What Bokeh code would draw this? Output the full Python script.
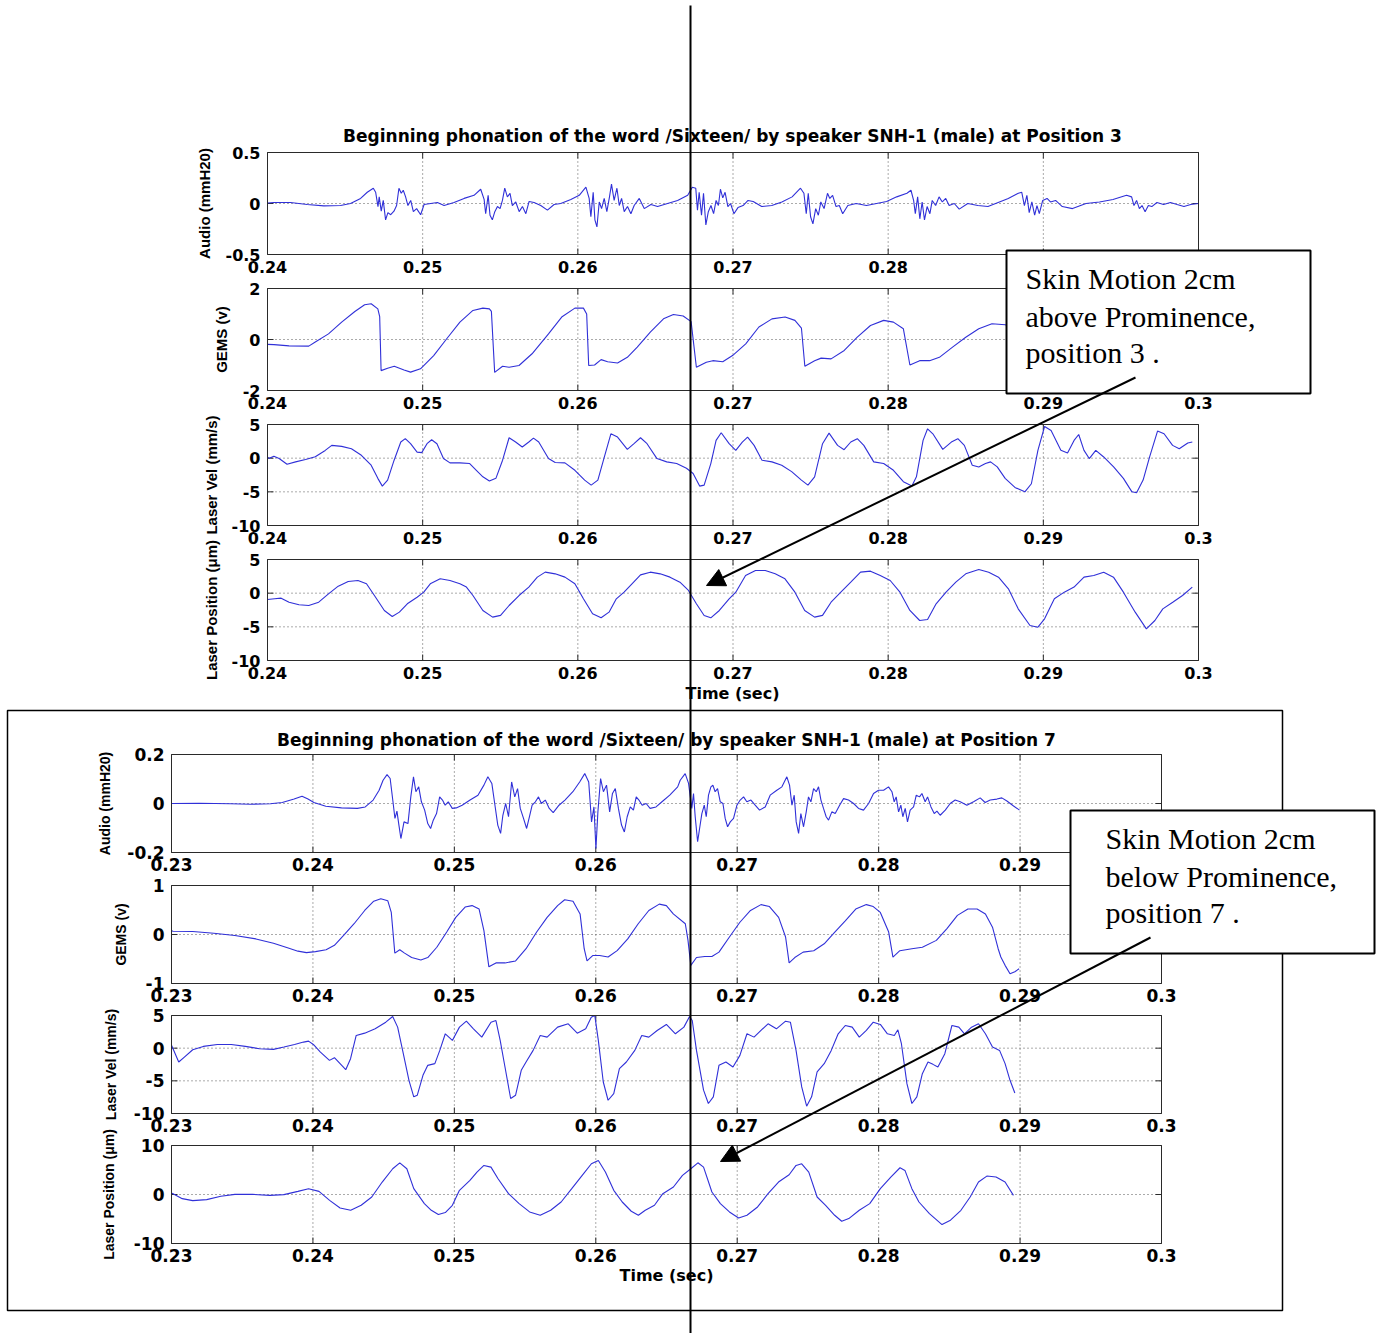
from bokeh.plotting import figure
from bokeh.models import Range1d, Arrow, NormalHead
from bokeh.core.properties import value
from bokeh.embed import file_html
from bokeh.resources import INLINE

W, H = 1382, 1333
BLUE = "#3030d8"

# ---------------- data: (time s, value) ----------------
AUDIO_3 = [(0.24000,0.005),(0.24041,0.01),(0.24148,0.01),(0.24256,-0.01),(0.24363,-0.023),(0.24471,-0.02),(0.24535,0.0),(0.24600,0.05),(0.24643,0.11),(0.24682,0.15),(0.24697,0.11),(0.24712,-0.03),(0.24720,0.065),(0.24733,-0.075),(0.24746,0.03),(0.24761,-0.16),(0.24776,-0.09),(0.24794,-0.11),(0.24815,-0.075),(0.24832,-0.02),(0.24847,0.15),(0.24862,0.10),(0.24875,0.13),(0.24890,0.065),(0.24905,-0.02),(0.24923,0.03),(0.24940,-0.08),(0.24961,-0.05),(0.24987,-0.11),(0.25009,-0.01),(0.25052,0.0),(0.25095,0.01),(0.25138,-0.02),(0.25202,0.01),(0.25267,0.05),(0.25331,0.08),(0.25374,0.14),(0.25396,0.04),(0.25406,-0.10),(0.25422,0.08),(0.25434,-0.115),(0.25449,-0.16),(0.25465,-0.08),(0.25482,-0.03),(0.25499,-0.05),(0.25514,0.03),(0.25529,0.15),(0.25546,0.065),(0.25563,0.10),(0.25578,-0.02),(0.25600,0.015),(0.25622,-0.08),(0.25643,-0.03),(0.25665,-0.10),(0.25686,0.02),(0.25718,0.01),(0.25761,-0.02),(0.25804,-0.065),(0.25847,-0.01),(0.25890,0.0),(0.25955,0.04),(0.26009,0.08),(0.26052,0.16),(0.26073,0.05),(0.26084,-0.13),(0.26099,0.11),(0.26110,-0.16),(0.26123,-0.23),(0.26138,0.015),(0.26153,-0.05),(0.26170,0.05),(0.26187,-0.08),(0.26204,0.065),(0.26217,0.19),(0.26234,0.03),(0.26252,0.15),(0.26267,-0.02),(0.26282,0.05),(0.26299,-0.08),(0.26320,-0.03),(0.26342,-0.10),(0.26363,-0.02),(0.26396,0.05),(0.26428,-0.05),(0.26471,-0.01),(0.26514,-0.03),(0.26578,0.0),(0.26643,0.03),(0.26708,0.08),(0.26738,0.16),(0.26760,0.15),(0.26771,-0.065),(0.26782,0.11),(0.26797,-0.115),(0.26810,0.10),(0.26825,-0.21),(0.26841,-0.08),(0.26858,-0.02),(0.26875,-0.10),(0.26891,0.03),(0.26906,-0.02),(0.26919,0.14),(0.26934,0.055),(0.26949,0.11),(0.26967,-0.03),(0.26984,0.0),(0.27006,-0.10),(0.27032,-0.04),(0.27065,-0.02),(0.27097,0.03),(0.27130,0.02),(0.27185,-0.03),(0.27250,-0.02),(0.27315,0.015),(0.27381,0.065),(0.27435,0.15),(0.27457,0.10),(0.27472,-0.10),(0.27485,0.10),(0.27500,-0.13),(0.27515,-0.20),(0.27533,-0.05),(0.27550,-0.115),(0.27566,0.015),(0.27587,-0.05),(0.27609,0.10),(0.27624,0.05),(0.27642,0.08),(0.27664,-0.03),(0.27685,-0.02),(0.27707,-0.10),(0.27740,-0.02),(0.27794,0.0),(0.27860,-0.02),(0.27925,0.0),(0.27990,0.02),(0.28055,0.065),(0.28121,0.10),(0.28147,0.13),(0.28164,0.03),(0.28175,-0.10),(0.28190,0.065),(0.28204,-0.15),(0.28219,0.015),(0.28234,-0.16),(0.28251,-0.03),(0.28269,-0.10),(0.28284,0.03),(0.28306,-0.02),(0.28328,0.065),(0.28349,0.015),(0.28371,0.05),(0.28393,-0.02),(0.28426,0.0),(0.28458,-0.055),(0.28513,0.0),(0.28578,-0.02),(0.28643,-0.03),(0.28709,0.01),(0.28774,0.05),(0.28839,0.10),(0.28861,0.11),(0.28878,-0.02),(0.28894,0.08),(0.28909,-0.09),(0.28926,0.015),(0.28944,-0.115),(0.28959,-0.02),(0.28974,-0.10),(0.28996,0.03),(0.29024,0.05),(0.29046,0.015),(0.29079,0.03),(0.29122,-0.03),(0.29188,-0.05),(0.29275,0.0),(0.29362,0.015),(0.29449,0.04),(0.29536,0.08),(0.29569,0.065),(0.29584,-0.02),(0.29601,0.03),(0.29619,-0.05),(0.29636,-0.02),(0.29656,-0.08),(0.29677,-0.02),(0.29699,-0.03),(0.29732,0.01),(0.29775,-0.01),(0.29819,0.01),(0.29862,-0.01),(0.29906,-0.03),(0.29950,-0.01),(0.30000,0.0)]

GEMS_3 = [(0.24000,-0.19),(0.24042,-0.20),(0.24139,-0.25),(0.24266,-0.26),(0.24308,-0.10),(0.24393,0.22),(0.24478,0.68),(0.24563,1.10),(0.24626,1.36),(0.24668,1.40),(0.24711,1.20),(0.24723,0.90),(0.24732,-1.22),(0.24774,-1.13),(0.24817,-1.05),(0.24880,-1.20),(0.24922,-1.28),(0.24986,-1.15),(0.25071,-0.63),(0.25155,0.03),(0.25240,0.68),(0.25324,1.14),(0.25388,1.23),(0.25430,1.20),(0.25443,1.10),(0.25464,-1.29),(0.25515,-1.05),(0.25557,-1.09),(0.25621,-1.02),(0.25705,-0.56),(0.25811,0.22),(0.25896,0.88),(0.25981,1.23),(0.26036,1.23),(0.26057,1.00),(0.26070,-1.02),(0.26108,-1.00),(0.26150,-0.79),(0.26192,-0.87),(0.26256,-0.92),(0.26319,-0.70),(0.26383,-0.30),(0.26467,0.29),(0.26552,0.81),(0.26616,0.98),(0.26679,0.92),(0.26730,0.70),(0.26764,-1.09),(0.26828,-0.89),(0.26870,-0.83),(0.26934,-0.87),(0.26997,-0.63),(0.27082,-0.17),(0.27167,0.49),(0.27251,0.81),(0.27336,0.88),(0.27399,0.75),(0.27441,0.45),(0.27463,-1.05),(0.27526,-0.83),(0.27568,-0.73),(0.27632,-0.76),(0.27717,-0.43),(0.27801,0.09),(0.27886,0.55),(0.27971,0.75),(0.28034,0.68),(0.28098,0.42),(0.28140,-1.00),(0.28203,-0.83),(0.28267,-0.83),(0.28330,-0.70),(0.28415,-0.30),(0.28500,0.09),(0.28584,0.42),(0.28669,0.62),(0.28754,0.58),(0.28820,0.45),(0.28860,0.20),(0.28880,-0.95),(0.28930,-0.80),(0.29000,-0.60),(0.29100,-0.10),(0.29250,0.40),(0.29400,0.50),(0.29500,0.35),(0.29530,-0.90),(0.29620,-0.70),(0.29750,-0.30),(0.29900,0.20),(0.30000,0.35)]

VEL_3 = [(0.24000,0.1),(0.24012,0.0),(0.24041,0.3),(0.24075,-0.05),(0.24126,-0.9),(0.24181,-0.55),(0.24245,-0.2),(0.24308,0.2),(0.24372,1.15),(0.24414,1.9),(0.24478,1.75),(0.24541,1.4),(0.24605,0.43),(0.24668,-1.05),(0.24711,-3.0),(0.24740,-4.15),(0.24774,-3.26),(0.24816,-0.3),(0.24859,2.4),(0.24888,2.9),(0.24922,2.15),(0.24964,0.9),(0.24994,0.82),(0.25028,2.15),(0.25058,2.74),(0.25092,2.15),(0.25134,-0.06),(0.25176,-0.7),(0.25240,-0.7),(0.25303,-0.8),(0.25346,-1.8),(0.25388,-2.77),(0.25430,-3.4),(0.25472,-3.0),(0.25515,-0.3),(0.25557,3.03),(0.25599,2.4),(0.25642,1.65),(0.25684,2.4),(0.25714,2.98),(0.25748,2.4),(0.25811,-0.06),(0.25854,-0.65),(0.25917,-0.7),(0.25981,-1.8),(0.26044,-3.26),(0.26086,-4.0),(0.26129,-3.26),(0.26171,0.18),(0.26213,3.62),(0.26256,3.13),(0.26319,1.3),(0.26362,2.15),(0.26404,3.03),(0.26446,2.15),(0.26510,-0.06),(0.26573,-0.55),(0.26637,-0.8),(0.26700,-1.5),(0.26743,-2.28),(0.26785,-4.15),(0.26814,-4.0),(0.26857,-0.8),(0.26891,2.64),(0.26924,3.77),(0.26975,2.15),(0.27018,1.16),(0.27060,2.39),(0.27094,3.13),(0.27136,1.9),(0.27187,-0.3),(0.27251,-0.55),(0.27314,-1.05),(0.27378,-2.0),(0.27441,-3.26),(0.27483,-4.0),(0.27526,-2.77),(0.27577,2.15),(0.27619,3.72),(0.27674,1.9),(0.27716,1.26),(0.27759,2.4),(0.27801,2.9),(0.27843,1.9),(0.27907,-0.55),(0.27971,-0.8),(0.28034,-1.8),(0.28098,-3.5),(0.28153,-4.15),(0.28182,-2.77),(0.28225,2.64),(0.28254,4.36),(0.28288,3.62),(0.28352,1.3),(0.28407,2.39),(0.28449,2.9),(0.28491,1.9),(0.28542,-1.05),(0.28584,-1.3),(0.28627,-0.8),(0.28660,-0.55),(0.28703,-1.3),(0.28754,-3.0),(0.28817,-4.35),(0.28881,-5.0),(0.28923,-3.8),(0.28965,1.16),(0.29008,4.7),(0.29050,4.1),(0.29113,1.16),(0.29156,0.77),(0.29198,2.64),(0.29228,3.52),(0.29262,1.16),(0.29296,-0.06),(0.29338,1.16),(0.29389,0.18),(0.29453,-1.3),(0.29516,-3.0),(0.29571,-5.0),(0.29601,-5.13),(0.29643,-3.26),(0.29685,0.18),(0.29736,4.02),(0.29778,3.62),(0.29833,1.9),(0.29876,1.4),(0.29931,2.25),(0.29960,2.4)]

POS_3 = [(0.24000,-0.95),(0.24046,-0.84),(0.24088,-0.74),(0.24139,-1.34),(0.24203,-1.73),(0.24266,-1.83),(0.24330,-1.34),(0.24393,-0.10),(0.24456,1.04),(0.24520,1.73),(0.24583,1.88),(0.24638,1.39),(0.24689,-0.35),(0.24753,-2.57),(0.24804,-3.47),(0.24850,-2.82),(0.24901,-1.58),(0.24964,-0.60),(0.25007,0.15),(0.25049,1.39),(0.25113,2.13),(0.25176,1.88),(0.25240,1.39),(0.25282,0.90),(0.25324,-0.35),(0.25388,-2.57),(0.25451,-3.56),(0.25502,-3.30),(0.25557,-1.83),(0.25621,-0.35),(0.25684,0.90),(0.25739,2.38),(0.25790,3.12),(0.25854,2.87),(0.25917,2.38),(0.25981,1.39),(0.26036,-0.84),(0.26095,-3.07),(0.26150,-3.66),(0.26201,-2.82),(0.26248,-0.84),(0.26298,0.15),(0.26349,1.39),(0.26404,2.72),(0.26467,3.12),(0.26531,2.87),(0.26594,2.38),(0.26658,1.63),(0.26713,0.40),(0.26764,-1.58),(0.26814,-3.32),(0.26857,-3.66),(0.26912,-2.57),(0.26975,-0.84),(0.27018,0.15),(0.27081,2.62),(0.27145,3.37),(0.27208,3.37),(0.27272,2.87),(0.27335,2.13),(0.27399,0.15),(0.27462,-2.57),(0.27526,-3.56),(0.27577,-3.30),(0.27632,-1.34),(0.27695,0.15),(0.27759,1.63),(0.27822,3.12),(0.27886,3.27),(0.27949,2.62),(0.28013,1.88),(0.28076,0.15),(0.28140,-2.57),(0.28203,-4.06),(0.28254,-3.91),(0.28309,-1.58),(0.28373,0.15),(0.28436,1.63),(0.28500,2.87),(0.28584,3.51),(0.28648,3.12),(0.28711,2.38),(0.28775,0.64),(0.28838,-2.33),(0.28914,-4.80),(0.28965,-5.05),(0.29008,-3.81),(0.29071,-0.84),(0.29135,0.15),(0.29198,0.90),(0.29262,2.38),(0.29325,2.62),(0.29389,3.12),(0.29452,2.38),(0.29516,0.15),(0.29592,-2.82),(0.29664,-5.30),(0.29719,-4.06),(0.29770,-2.33),(0.29834,-1.34),(0.29897,-0.35),(0.29960,0.90)]

AUDIO_7 = [(0.23000,0.0),(0.23006,0.0),(0.23196,0.001),(0.23419,-0.001),(0.23559,-0.003),(0.23699,-0.001),(0.23783,0.004),(0.23867,0.018),(0.23923,0.030),(0.23965,0.018),(0.24007,0.004),(0.24091,-0.011),(0.24202,-0.018),(0.24314,-0.020),(0.24370,-0.014),(0.24426,0.014),(0.24468,0.054),(0.24496,0.095),(0.24524,0.118),(0.24546,0.102),(0.24566,0.007),(0.24580,-0.061),(0.24594,-0.031),(0.24608,-0.088),(0.24622,-0.143),(0.24644,-0.075),(0.24672,-0.082),(0.24692,0.027),(0.24711,0.109),(0.24728,0.048),(0.24748,0.068),(0.24767,0.007),(0.24790,-0.027),(0.24812,-0.082),(0.24832,-0.102),(0.24851,-0.068),(0.24874,-0.041),(0.24896,0.027),(0.24916,0.014),(0.24935,-0.007),(0.24957,0.007),(0.24985,-0.020),(0.25013,-0.018),(0.25055,-0.007),(0.25111,0.014),(0.25167,0.034),(0.25209,0.075),(0.25237,0.109),(0.25265,0.082),(0.25287,-0.007),(0.25307,-0.088),(0.25327,-0.122),(0.25343,-0.048),(0.25363,0.0),(0.25383,-0.054),(0.25405,0.088),(0.25427,0.027),(0.25447,0.061),(0.25466,-0.020),(0.25489,-0.061),(0.25511,-0.102),(0.25531,-0.054),(0.25550,-0.007),(0.25573,0.007),(0.25595,0.027),(0.25615,0.0),(0.25643,0.014),(0.25671,-0.020),(0.25699,-0.037),(0.25740,-0.007),(0.25782,0.014),(0.25838,0.048),(0.25886,0.088),(0.25922,0.122),(0.25950,0.088),(0.25970,-0.075),(0.25987,-0.014),(0.26001,-0.184),(0.26015,-0.034),(0.26034,0.102),(0.26054,0.048),(0.26076,0.075),(0.26098,-0.034),(0.26118,0.041),(0.26138,0.061),(0.26160,-0.020),(0.26182,-0.088),(0.26202,-0.116),(0.26222,-0.054),(0.26244,-0.014),(0.26266,-0.027),(0.26286,0.027),(0.26305,0.014),(0.26328,-0.007),(0.26356,0.0),(0.26384,-0.020),(0.26426,-0.014),(0.26468,0.007),(0.26523,0.034),(0.26579,0.068),(0.26597,0.095),(0.26632,0.122),(0.26656,0.082),(0.26679,-0.020),(0.26691,0.041),(0.26703,-0.054),(0.26720,-0.156),(0.26734,-0.102),(0.26750,-0.041),(0.26767,-0.007),(0.26781,-0.054),(0.26797,0.034),(0.26814,0.068),(0.26828,0.075),(0.26844,0.048),(0.26861,0.061),(0.26880,0.007),(0.26899,0.0),(0.26915,-0.061),(0.26932,-0.095),(0.26951,-0.075),(0.26974,-0.061),(0.26998,-0.007),(0.27021,0.014),(0.27045,0.027),(0.27068,0.007),(0.27097,0.014),(0.27127,-0.007),(0.27158,-0.027),(0.27198,-0.014),(0.27233,0.034),(0.27280,0.054),(0.27316,0.068),(0.27351,0.109),(0.27370,0.075),(0.27387,-0.007),(0.27403,0.034),(0.27417,-0.075),(0.27434,-0.122),(0.27450,-0.041),(0.27469,-0.095),(0.27488,-0.034),(0.27504,0.027),(0.27521,0.007),(0.27540,0.061),(0.27559,0.048),(0.27575,0.068),(0.27592,0.014),(0.27610,-0.020),(0.27629,-0.054),(0.27646,-0.068),(0.27669,-0.034),(0.27693,-0.041),(0.27724,-0.007),(0.27752,0.020),(0.27787,0.014),(0.27823,0.0),(0.27858,-0.020),(0.27893,-0.027),(0.27929,0.0),(0.27964,0.041),(0.27999,0.054),(0.28035,0.054),(0.28070,0.068),(0.28094,0.048),(0.28110,0.007),(0.28124,0.027),(0.28141,-0.034),(0.28157,-0.007),(0.28171,-0.054),(0.28188,-0.020),(0.28204,-0.075),(0.28223,-0.027),(0.28247,-0.014),(0.28266,0.034),(0.28289,0.027),(0.28306,0.041),(0.28329,0.007),(0.28346,0.027),(0.28370,-0.014),(0.28393,-0.041),(0.28412,-0.031),(0.28435,-0.048),(0.28471,-0.027),(0.28506,0.0),(0.28541,0.014),(0.28577,0.007),(0.28624,-0.007),(0.28671,0.007),(0.28718,0.023),(0.28753,0.004),(0.28789,0.014),(0.28836,0.018),(0.28871,0.023),(0.28907,0.010),(0.28954,-0.010),(0.28996,-0.027)]

GEMS_7 = [(0.23000,0.07),(0.23011,0.068),(0.23150,0.06),(0.23299,0.027),(0.23448,-0.02),(0.23597,-0.09),(0.23721,-0.18),(0.23820,-0.27),(0.23894,-0.34),(0.23954,-0.37),(0.24018,-0.35),(0.24093,-0.31),(0.24152,-0.22),(0.24217,-0.02),(0.24291,0.22),(0.24366,0.49),(0.24430,0.68),(0.24480,0.73),(0.24529,0.69),(0.24554,0.45),(0.24579,-0.38),(0.24614,-0.31),(0.24648,-0.38),(0.24698,-0.47),(0.24763,-0.52),(0.24812,-0.47),(0.24876,-0.26),(0.24946,0.05),(0.25010,0.35),(0.25076,0.56),(0.25125,0.59),(0.25175,0.52),(0.25209,0.08),(0.25244,-0.66),(0.25294,-0.58),(0.25358,-0.58),(0.25433,-0.54),(0.25507,-0.29),(0.25582,0.05),(0.25656,0.35),(0.25730,0.59),(0.25780,0.71),(0.25839,0.68),(0.25889,0.42),(0.25918,-0.29),(0.25938,-0.54),(0.25978,-0.43),(0.26027,-0.43),(0.26087,-0.46),(0.26151,-0.33),(0.26226,-0.09),(0.26300,0.22),(0.26375,0.49),(0.26449,0.62),(0.26499,0.59),(0.26548,0.42),(0.26633,0.22),(0.26652,-0.12),(0.26672,-0.63),(0.26712,-0.47),(0.26771,-0.45),(0.26821,-0.45),(0.26871,-0.36),(0.26945,-0.05),(0.27019,0.25),(0.27094,0.49),(0.27168,0.61),(0.27228,0.57),(0.27293,0.35),(0.27342,-0.05),(0.27367,-0.58),(0.27407,-0.47),(0.27466,-0.36),(0.27541,-0.33),(0.27615,-0.19),(0.27690,0.05),(0.27764,0.28),(0.27838,0.52),(0.27913,0.61),(0.27962,0.57),(0.28012,0.45),(0.28071,0.05),(0.28101,-0.46),(0.28150,-0.33),(0.28235,-0.29),(0.28309,-0.26),(0.28408,-0.12),(0.28483,0.12),(0.28557,0.39),(0.28631,0.52),(0.28696,0.52),(0.28755,0.42),(0.28805,0.15),(0.28845,-0.29),(0.28864,-0.46),(0.28894,-0.63),(0.28929,-0.80),(0.28963,-0.76),(0.28993,-0.70)]

VEL_7 = [(0.23001,0.42),(0.23026,-0.85),(0.23051,-2.12),(0.23091,-1.36),(0.23150,-0.24),(0.23225,0.27),(0.23324,0.57),(0.23423,0.57),(0.23522,0.27),(0.23622,-0.09),(0.23721,-0.19),(0.23795,0.17),(0.23870,0.57),(0.23934,0.93),(0.23969,1.08),(0.24003,0.57),(0.24053,-0.6),(0.24117,-1.87),(0.24152,-1.46),(0.24192,-2.37),(0.24232,-3.29),(0.24266,-1.61),(0.24306,1.95),(0.24366,2.3),(0.24440,2.96),(0.24515,3.98),(0.24564,4.85),(0.24599,3.22),(0.24639,-0.85),(0.24679,-4.92),(0.24713,-7.45),(0.24738,-7.2),(0.24778,-4.16),(0.24812,-2.63),(0.24862,-2.37),(0.24897,-0.34),(0.24936,2.2),(0.24986,1.19),(0.25036,3.22),(0.25085,4.13),(0.25135,2.96),(0.25194,1.69),(0.25259,3.98),(0.25294,4.23),(0.25324,1.19),(0.25358,-2.88),(0.25398,-7.7),(0.25433,-7.2),(0.25473,-3.39),(0.25507,-2.12),(0.25557,-0.34),(0.25607,1.95),(0.25656,1.69),(0.25730,3.22),(0.25805,3.73),(0.25869,2.3),(0.25929,2.96),(0.25968,4.74),(0.25993,5.0),(0.26018,1.19),(0.26053,-5.18),(0.26087,-7.97),(0.26127,-6.95),(0.26167,-3.14),(0.26216,-2.12),(0.26276,-0.34),(0.26325,1.95),(0.26375,1.69),(0.26434,2.71),(0.26499,3.63),(0.26563,2.2),(0.26623,3.22),(0.26663,4.85),(0.26682,4.23),(0.26712,-0.34),(0.26762,-6.43),(0.26796,-8.47),(0.26831,-7.45),(0.26871,-2.63),(0.26920,-2.12),(0.26970,-2.88),(0.27019,-1.1),(0.27069,2.2),(0.27119,1.69),(0.27168,2.71),(0.27218,3.73),(0.27277,2.96),(0.27342,4.13),(0.27376,3.98),(0.27416,-0.34),(0.27456,-5.93),(0.27491,-8.88),(0.27526,-7.45),(0.27565,-3.64),(0.27615,-2.37),(0.27665,-0.34),(0.27714,2.2),(0.27764,3.47),(0.27813,3.22),(0.27863,1.69),(0.27913,2.71),(0.27962,3.98),(0.28012,3.63),(0.28062,2.2),(0.28111,1.95),(0.28136,2.81),(0.28161,0.68),(0.28200,-5.43),(0.28235,-8.47),(0.28270,-7.45),(0.28309,-3.9),(0.28349,-2.12),(0.28384,-2.48),(0.28419,-2.88),(0.28468,-0.85),(0.28518,3.47),(0.28567,3.22),(0.28607,2.2),(0.28657,3.22),(0.28706,3.73),(0.28755,2.2),(0.28805,0.17),(0.28855,-0.34),(0.28894,-2.37),(0.28929,-4.92),(0.28963,-6.86)]

POS_7 = [(0.23000,0.3),(0.23011,0.17),(0.23076,-0.85),(0.23150,-1.25),(0.23249,-1.05),(0.23349,-0.37),(0.23448,0.03),(0.23572,0.03),(0.23696,-0.17),(0.23795,-0.03),(0.23894,0.64),(0.23969,1.19),(0.24043,0.64),(0.24118,-1.19),(0.24192,-2.75),(0.24267,-3.22),(0.24341,-2.2),(0.24416,-0.51),(0.24490,2.54),(0.24564,5.25),(0.24614,6.47),(0.24664,5.25),(0.24713,1.19),(0.24788,-1.86),(0.24837,-3.22),(0.24887,-4.1),(0.24936,-3.69),(0.24986,-2.2),(0.25036,0.85),(0.25110,2.88),(0.25160,4.58),(0.25209,5.93),(0.25259,5.59),(0.25309,3.22),(0.25383,0.17),(0.25458,-1.86),(0.25532,-3.56),(0.25607,-4.24),(0.25681,-3.22),(0.25755,-1.53),(0.25830,1.19),(0.25904,3.9),(0.25969,6.27),(0.26018,6.95),(0.26068,4.58),(0.26127,0.85),(0.26187,-1.53),(0.26251,-3.42),(0.26301,-4.24),(0.26350,-3.22),(0.26415,-2.2),(0.26474,0.17),(0.26549,1.53),(0.26613,3.9),(0.26672,5.25),(0.26722,6.47),(0.26762,5.59),(0.26821,0.51),(0.26881,-1.86),(0.26945,-3.56),(0.27010,-4.78),(0.27069,-4.24),(0.27144,-2.54),(0.27218,0.17),(0.27292,2.54),(0.27367,4.03),(0.27416,5.93),(0.27456,6.27),(0.27506,4.58),(0.27565,-0.51),(0.27625,-2.2),(0.27689,-4.24),(0.27739,-5.46),(0.27789,-4.92),(0.27863,-3.22),(0.27937,-1.86),(0.28012,1.19),(0.28086,3.56),(0.28151,5.46),(0.28186,4.92),(0.28235,1.19),(0.28285,-1.53),(0.28359,-3.9),(0.28448,-6.14),(0.28508,-5.25),(0.28582,-3.22),(0.28647,-0.51),(0.28706,2.54),(0.28765,3.76),(0.28830,3.56),(0.28894,2.54),(0.28953,-0.17)]

# ---------------- axes / tick values ----------------
X_TICKS_3 = [0.24, 0.25, 0.26, 0.27, 0.28, 0.29, 0.30]
X_LABELS_3 = ["0.24", "0.25", "0.26", "0.27", "0.28", "0.29", "0.3"]
X_TICKS_7 = [0.23, 0.24, 0.25, 0.26, 0.27, 0.28, 0.29, 0.30]
X_LABELS_7 = ["0.23", "0.24", "0.25", "0.26", "0.27", "0.28", "0.29", "0.3"]

TITLE_3 = "Beginning phonation of the word /Sixteen/ by speaker SNH-1 (male) at Position 3"
TITLE_7 = "Beginning phonation of the word /Sixteen/ by speaker SNH-1 (male) at Position 7"
BOX_3 = ["Skin Motion 2cm", "above Prominence,", "position 3 ."]
BOX_7 = ["Skin Motion 2cm", "below Prominence,", "position 7 ."]

# panel: key, data, xlim, ylim, yticks, ylabels, ylabel, (L,T,R,B) px, ylabel x, group
PANELS = [
    ("a3", AUDIO_3, (0.24, 0.30), (-0.5, 0.5), [-0.5, 0, 0.5], ["-0.5", "0", "0.5"], "Audio (mmH20)", (267, 152, 1198, 254), 204, 3),
    ("g3", GEMS_3, (0.24, 0.30), (-2, 2), [-2, 0, 2], ["-2", "0", "2"], "GEMS (v)", (267, 288, 1198, 390), 221, 3),
    ("v3", VEL_3, (0.24, 0.30), (-10, 5), [-10, -5, 0, 5], ["-10", "-5", "0", "5"], "Laser Vel (mm/s)", (267, 424, 1198, 525), 211, 3),
    ("p3", POS_3, (0.24, 0.30), (-10, 5), [-10, -5, 0, 5], ["-10", "-5", "0", "5"], "Laser Position (\u03bcm)", (267, 559, 1198, 660), 211, 3),
    ("a7", AUDIO_7, (0.23, 0.30), (-0.2, 0.2), [-0.2, 0, 0.2], ["-0.2", "0", "0.2"], "Audio (mmH20)", (171, 754, 1161, 852), 104, 7),
    ("g7", GEMS_7, (0.23, 0.30), (-1, 1), [-1, 0, 1], ["-1", "0", "1"], "GEMS (v)", (171, 885, 1161, 983), 120, 7),
    ("v7", VEL_7, (0.23, 0.30), (-10, 5), [-10, -5, 0, 5], ["-10", "-5", "0", "5"], "Laser Vel (mm/s)", (171, 1015, 1161, 1113), 110, 7),
    ("p7", POS_7, (0.23, 0.30), (-10, 10), [-10, 0, 10], ["-10", "0", "10"], "Laser Position (\u03bcm)", (171, 1145, 1161, 1243), 108, 7),
]

p = figure(width=W, height=H, x_range=Range1d(0, W), y_range=Range1d(H, 0),
           output_backend="svg", toolbar_location=None, min_border=0,
           x_axis_location=None, y_axis_location=None)
p.outline_line_color = None
p.background_fill_color = "white"
p.border_fill_color = "white"
p.grid.visible = False

xr, yr = {}, {}
for key, data, (x0, x1), (y0, y1), yt, yl, ylabel, (L, T, R, B), lab_x, grp in PANELS:
    ax = (x1 - x0) / (R - L)
    ay = (y1 - y0) / (B - T)
    xr[key + "_x"] = Range1d(x0 - L * ax, x0 + (W - L) * ax)
    yr[key + "_y"] = Range1d(y0 + (B - H) * ay, y0 + B * ay)
p.extra_x_ranges = xr
p.extra_y_ranges = yr

AX = "#2a2a2a"
for key, data, (x0, x1), (y0, y1), yt, yl, ylabel, (L, T, R, B), lab_x, grp in PANELS:
    kw = dict(x_range_name=key + "_x", y_range_name=key + "_y")
    ax = (x1 - x0) / (R - L)
    ay = (y1 - y0) / (B - T)
    xt = X_TICKS_3 if grp == 3 else X_TICKS_7
    xl = X_LABELS_3 if grp == 3 else X_LABELS_7
    tfs = "16px" if grp == 3 else "17px"
    lfs = "15px" if grp == 3 else "14px"
    ix = [t for t in xt if x0 < t < x1]
    iy = [v for v in yt if y0 < v < y1]
    p.segment(x0=ix, y0=[y0] * len(ix), x1=ix, y1=[y1] * len(ix), line_color="#555555",
              line_width=1, line_dash="1 3", **kw)
    p.segment(x0=[x0] * len(iy), y0=iy, x1=[x1] * len(iy), y1=iy, line_color="#555555",
              line_width=1, line_dash="1 3", **kw)
    tl = 6
    p.segment(x0=xt, y0=[y0] * len(xt), x1=xt, y1=[y0 + tl * ay] * len(xt), line_color=AX, **kw)
    p.segment(x0=xt, y0=[y1] * len(xt), x1=xt, y1=[y1 - tl * ay] * len(xt), line_color=AX, **kw)
    p.segment(x0=[x0] * len(yt), y0=yt, x1=[x0 + tl * ax] * len(yt), y1=yt, line_color=AX, **kw)
    p.segment(x0=[x1] * len(yt), y0=yt, x1=[x1 - tl * ax] * len(yt), y1=yt, line_color=AX, **kw)
    ts, vs = zip(*data)
    p.line(x=list(ts), y=list(vs), line_color=BLUE, line_width=1.1, **kw)
    p.quad(left=[x0], right=[x1], bottom=[y0], top=[y1], fill_color=None,
           line_color=AX, line_width=1, **kw)
    p.text(x=xt, y=[y0 - 12 * ay] * len(xt), text=xl, text_align="center", text_baseline="middle",
           text_font=value("DejaVu Sans"), text_font_style="bold", text_font_size=tfs,
           text_color="black", **kw)
    p.text(x=[x0 - 7 * ax] * len(yt), y=yt, text=yl, text_align="right", text_baseline="middle",
           text_font=value("DejaVu Sans"), text_font_style="bold", text_font_size=tfs,
           text_color="black", **kw)
    p.text(x=[lab_x], y=[(T + B) / 2], text=[ylabel], angle=1.5707963, text_align="center",
           text_baseline="middle", text_font=value("Liberation Sans"), text_font_style="bold",
           text_font_size=lfs, text_color="black")

# titles and x labels (page coordinates)
p.text(x=[732, 666], y=[135, 739], text=[TITLE_3, TITLE_7], text_align="center",
       text_baseline="middle", text_font=value("DejaVu Sans"), text_font_style="bold",
       text_font_size="17px", text_color="black")
p.text(x=[732, 666], y=[693, 1275], text=["Time (sec)", "Time (sec)"], text_align="center",
       text_baseline="middle", text_font=value("DejaVu Sans"), text_font_style="bold",
       text_font_size="16px", text_color="black")

# frame around lower group
p.quad(left=[7], right=[1282], top=[710], bottom=[1310], fill_color=None, line_color="black", line_width=1.5)

# vertical marker line
p.segment(x0=[690], y0=[5], x1=[690], y1=[H], line_color="black", line_width=2)

# callout boxes
p.quad(left=[1006, 1070], right=[1310, 1374], top=[250, 810], bottom=[393, 953],
       fill_color="white", line_color="black", line_width=2)
p.text(x=[1025] * 3, y=[278, 315.5, 352], text=BOX_3, text_align="left", text_baseline="middle",
       text_font=value("Liberation Serif"), text_font_size="30px", text_color="black")
p.text(x=[1105] * 3, y=[838, 875.5, 912], text=BOX_7, text_align="left", text_baseline="middle",
       text_font=value("Liberation Serif"), text_font_size="30px", text_color="black")

p.add_layout(Arrow(end=NormalHead(size=18, fill_color="black", line_color="black"),
                   x_start=1135, y_start=377, x_end=706, y_end=585, line_width=2, line_color="black"))
p.add_layout(Arrow(end=NormalHead(size=18, fill_color="black", line_color="black"),
                   x_start=1150, y_start=937, x_end=720, y_end=1161, line_width=2, line_color="black"))

open("out.html", "w").write(file_html(p, INLINE))
